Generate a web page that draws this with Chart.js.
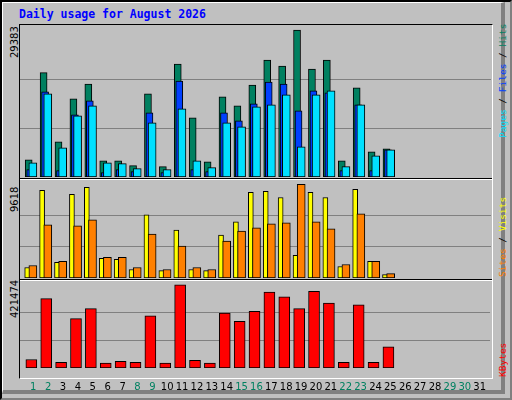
<!DOCTYPE html>
<html>
<head>
<meta charset="utf-8">
<script src="https://cdn.jsdelivr.net/npm/chart.js@4"></script>
<style>
  html, body { margin: 0; padding: 0; }
  body { width: 512px; height: 400px; overflow: hidden; }
  #frame { position: absolute; left: 0; top: 0; width: 508px; height: 396px; background: #C0C0C0;
    border-top: 2px solid #000; border-left: 2px solid #000; border-right: 2px solid #808080; border-bottom: 2px solid #808080; }
  #frame2 { position: absolute; left: 2px; top: 2px; width: 498px; height: 387px;
    border-top: 1px solid #fff; border-left: 1px solid #fff; border-right: 4px solid #808080; border-bottom: 4px solid #808080; }
  .title { position: absolute; left: 19px; top: 7px; font: bold 11.5px "DejaVu Sans Mono", monospace; color: #0000FF; }
  .box { position: absolute; left: 19px; top: 24px; width: 472px; height: 353px;
    border-top: 1px solid #000; border-left: 1px solid #000; border-right: 1px solid #fff; border-bottom: 1px solid #fff; }
  .sep { position: absolute; left: 20px; width: 472px; height: 1px; background: #000; border-bottom: 1px solid #fff; }
  canvas { position: absolute; }
  .vlab { position: absolute; transform-origin: 0 0; transform: rotate(-90deg); white-space: nowrap; }
  .maxl { font: 10px "DejaVu Sans", sans-serif; color: #000; }
  .leg { font: 9.5px "DejaVu Sans Mono", monospace; color: #000; }
</style>
</head>
<body>
<div id="frame"></div>
<div id="frame2"></div>
<div class="title">Daily usage for August 2026</div>
<div class="box"></div>
<div class="sep" style="top:178px"></div>
<div class="sep" style="top:279px"></div>
<div style="position:absolute;left:20px;top:25px;width:471px;height:152px">
  <canvas id="top"></canvas></div>
<div style="position:absolute;left:20px;top:181px;width:471px;height:97px">
  <canvas id="mid"></canvas></div>
<div style="position:absolute;left:20px;top:282px;width:471px;height:116px">
  <canvas id="bot"></canvas></div>

<div class="vlab maxl" style="left:9px;top:58px">29383</div>
<div class="vlab maxl" style="left:9px;top:212px">9618</div>
<div class="vlab maxl" style="left:9px;top:318px">421474</div>

<div class="vlab leg" style="left:497px;top:138px"><span style="color:#00E0FF">Pages</span> / <span style="color:#0040FF">Files</span> / <span style="color:#008060">Hits</span></div>
<div class="vlab leg" style="left:497px;top:277px"><span style="color:#FF8000">Sites</span> / <span style="color:#FFFF00">Visits</span></div>
<div class="vlab leg" style="left:497px;top:377px"><span style="color:#FF0000">KBytes</span></div>

<script>
const days = Array.from({ length: 31 }, (_, i) => i + 1);
const weekendDays = [1, 2, 8, 9, 15, 16, 22, 23, 29, 30];

const hits   = [3457, 20880, 7050, 15620, 18610, 3260, 3260, 2260, 16620, 2060, 22600, 11830, 3060, 16020, 14230, 18410, 23400, 22200, 29383, 21600, 23400, 3260, 17820, 5050, 5650];
const files  = [1460, 17020, 1260, 12430, 15220, 860, 1460, 1060, 12830, 860, 19210, 1460, 1060, 12830, 11230, 14630, 19010, 18610, 13230, 17220, 16820, 1260, 14430, 1260, 5450];
const pages  = [2860, 16620, 5850, 12230, 14230, 2860, 2660, 1660, 10840, 1460, 13630, 3260, 1860, 10840, 10040, 14030, 14430, 16420, 6050, 16420, 17220, 2060, 14430, 4250, 5450];
const visits = [1076, 8990, 1597, 8576, 9305, 2014, 1910, 868, 6493, 764, 4930, 868, 764, 4410, 5764, 8785, 8889, 8264, 2326, 8785, 8264, 1180, 9097, 1701, 347];
const sites  = [1285, 5451, 1701, 5347, 5972, 2118, 2118, 1076, 4514, 868, 3264, 1076, 868, 3785, 4826, 5139, 5555, 5659, 9618, 5764, 5034, 1389, 6597, 1701, 451];
const kbytes = [43070, 352200, 29220, 250700, 301400, 24600, 33840, 29220, 264500, 24600, 421474, 38450, 24600, 278400, 236900, 287600, 384500, 361400, 301400, 389100, 329100, 29220, 319900, 29220, 107700];

const X_MIN = 0.107, X_MAX = 31.7;

// order: lower value is drawn on top
function series(values, shift, color, width, order) {
  return {
    data: values.map((v, i) => ({ x: days[i] + shift, y: v })),
    backgroundColor: color,
    borderColor: '#000',
    borderWidth: 1,
    borderSkipped: false,
    barThickness: width,
    grouped: false,
    order
  };
}

function makePanel(id, datasets, maxVal, showDays) {
  return new Chart(document.getElementById(id), {
    type: 'bar',
    data: { datasets },
    options: {
      responsive: true,
      maintainAspectRatio: false,
      animation: false,
      layout: { padding: 0 },
      plugins: { legend: { display: false }, tooltip: { enabled: false } },
      scales: {
        x: {
          type: 'linear', min: X_MIN, max: X_MAX, offset: false,
          display: showDays,
          border: { display: false },
          grid: { display: false },
          afterBuildTicks: s => { s.ticks = days.map(d => ({ value: d })); },
          ticks: {
            autoSkip: false, maxRotation: 0, padding: 5,
            font: { family: 'DejaVu Sans', size: 10 },
            color: c => weekendDays.includes(c.tick.value) ? '#008060' : '#000'
          }
        },
        y: {
          min: 0, max: maxVal * 1.035,
          afterBuildTicks: s => { s.ticks = [{ value: maxVal / 3 }, { value: maxVal * 2 / 3 }]; },
          ticks: { display: false },
          border: { display: false },
          grid: { color: '#808080', lineWidth: 1, drawTicks: false }
        }
      }
    }
  });
}

makePanel('top', [
  series(hits, -0.31, '#008060', 7, 3),
  series(files, -0.21, '#0040FF', 7, 2),
  series(pages, -0.03, '#00E0FF', 8, 1)
], 29383, false);

makePanel('mid', [
  series(visits, -0.41, '#FFFF00', 5, 2),
  series(sites, -0.03, '#FF8000', 8, 1)
], 9618, false);

makePanel('bot', [
  series(kbytes, -0.13, '#FF0000', 11, 1)
], 421474, true);
</script>
</body>
</html>
